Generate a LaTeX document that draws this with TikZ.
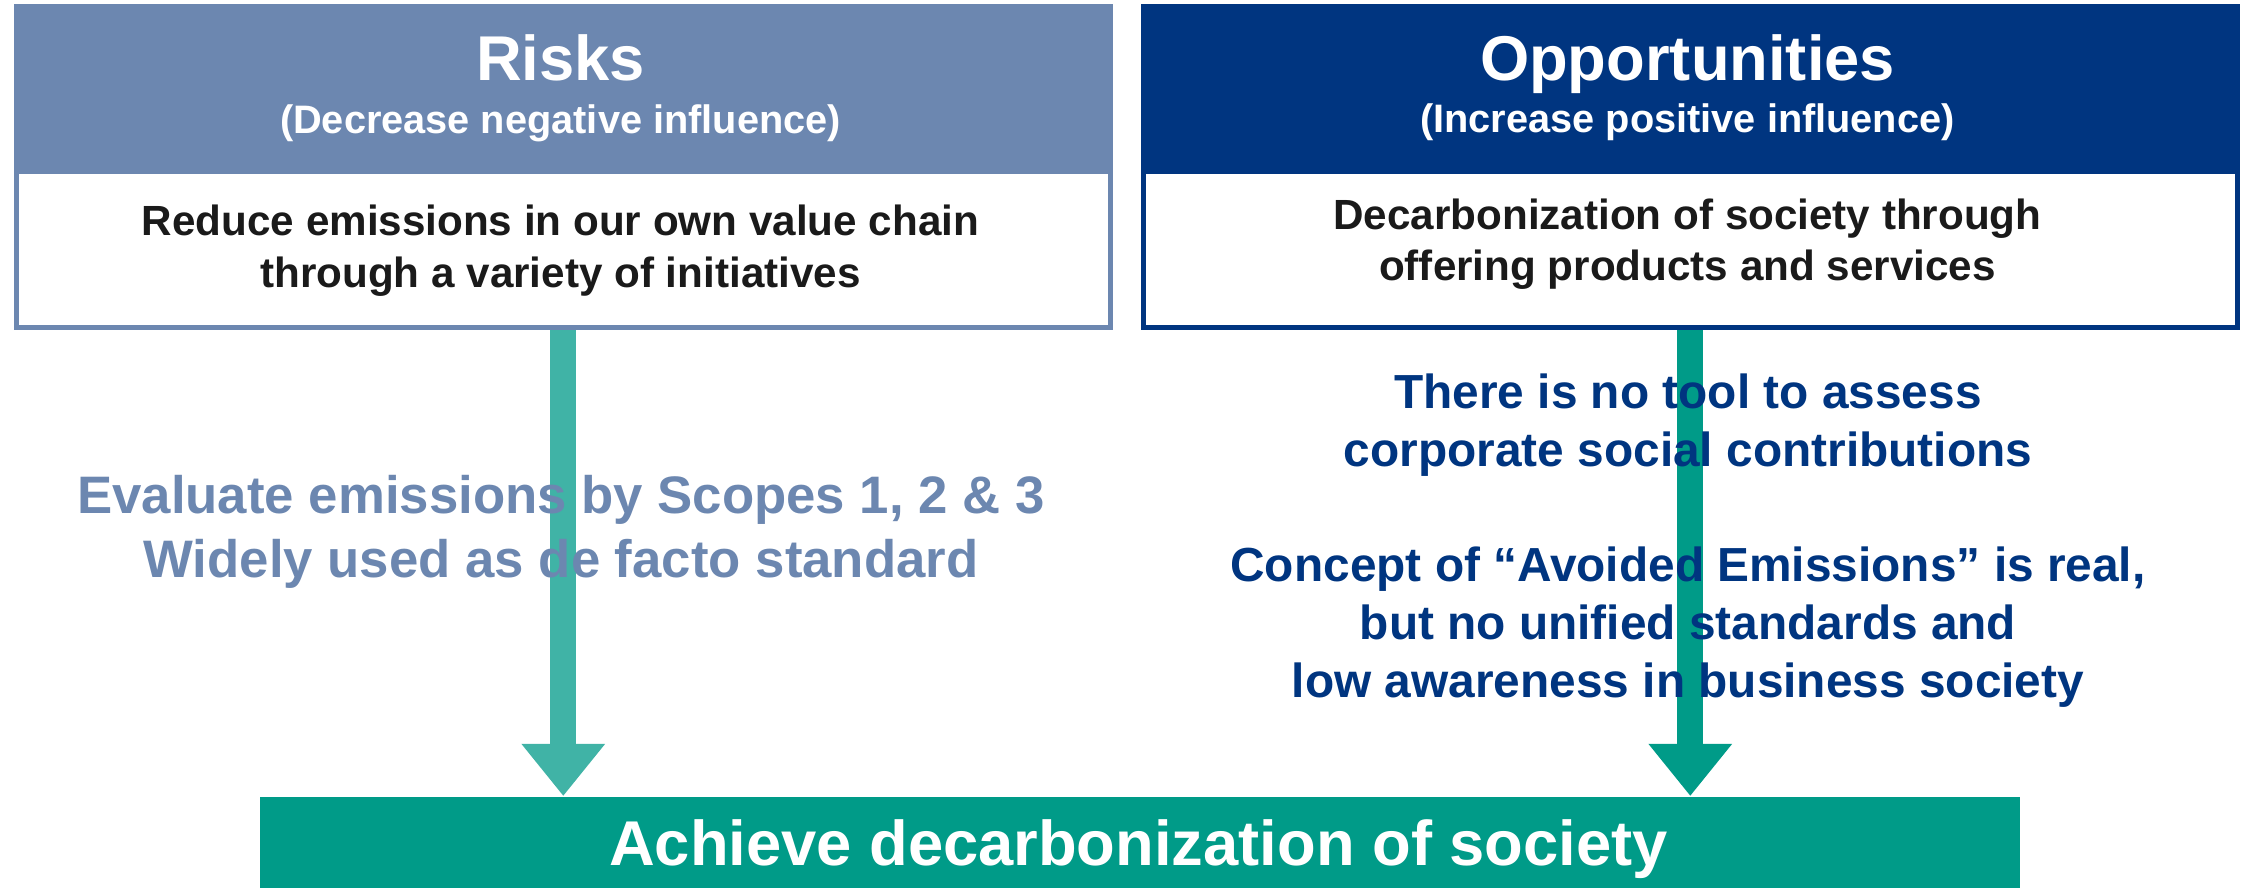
\documentclass[tikz,border=0pt]{standalone}
\usepackage{fontspec}
\setmainfont{Liberation Sans}
\usetikzlibrary{arrows.meta}

\definecolor{riskblue}{RGB}{108,135,176}
\definecolor{oppblue}{RGB}{0,53,128}
\definecolor{lightteal}{RGB}{64,179,166}
\definecolor{darkteal}{RGB}{0,155,136}
\definecolor{darktext}{RGB}{26,26,26}

\tikzset{
  headbox/.style={rectangle, draw=#1, fill=#1, line width=1.4pt, minimum width=10.93cm, minimum height=1.65cm, anchor=north west, inner sep=0pt},
  bodybox/.style={rectangle, draw=#1, fill=white, line width=1.4pt, minimum width=10.93cm, minimum height=1.56cm, anchor=north west, inner sep=0pt},
  titletext/.style={text=white, font=\fontsize{18}{21}\selectfont\bfseries, anchor=base, inner sep=0pt},
  subtext/.style={text=white, font=\fontsize{11.3}{13}\selectfont\bfseries, anchor=base, inner sep=0pt},
  bodytext/.style={text=darktext, font=\fontsize{12}{14.8}\selectfont\bfseries, anchor=base, inner sep=0pt},
  risknote/.style={text=riskblue, font=\fontsize{15}{18}\selectfont\bfseries, anchor=base, inner sep=0pt},
  oppnote/.style={text=oppblue, font=\fontsize{13.6}{16.5}\selectfont\bfseries, anchor=base, inner sep=0pt},
  flowarrow/.style={draw=#1, line width=0.26cm, -{Triangle[length=0.52cm, width=0.8cm]}},
  goalbox/.style={rectangle, fill=darkteal, minimum width=17.59cm, minimum height=1.1cm, anchor=north west, inner sep=0pt},
  goaltext/.style={text=white, font=\fontsize{18}{21}\selectfont\bfseries, anchor=base, inner sep=0pt}
}

\begin{document}
\begin{tikzpicture}[x=0.01cm, y=-0.01cm]
    \useasboundingbox (0,0) rectangle (2241,887);

    % two boxes at the top
    \node[headbox=riskblue] (riskhead) at (14,4) {};
    \node[bodybox=riskblue] (riskbody) at (14,169) {};
    \node[headbox=oppblue] (opphead) at (1141,4) {};
    \node[bodybox=oppblue] (oppbody) at (1141,169) {};

    % goal at the bottom
    \node[goalbox] (goal) at (259,796) {};

    % arrows
    \draw[flowarrow=lightteal] (riskbody.south) -- (riskbody.south |- goal.north);
    \draw[flowarrow=darkteal] (oppbody.south) -- (oppbody.south |- goal.north);

    % texts in the boxes
    \node[titletext] (risktitle) at (560.5,80) {Risks};
    \node[subtext] (risksub) at (560.5,133) {(Decrease negative influence)};
    \node[bodytext] (riskline1) at (560.5,235) {Reduce emissions in our own value chain};
    \node[bodytext] (riskline2) at (560.5,287) {through a variety of initiatives};

    \node[titletext] (opptitle) at (1687.5,80) {Opportunities};
    \node[subtext] (oppsub) at (1687.5,132) {(Increase positive influence)};
    \node[bodytext] (oppline1) at (1687.5,229) {Decarbonization of society through};
    \node[bodytext] (oppline2) at (1687.5,280) {offering products and services};

    % notes on the arrows
    \node[risknote] (scopeline1) at (561,513.5) {Evaluate emissions by Scopes 1, 2 \& 3};
    \node[risknote] (scopeline2) at (561,577) {Widely used as de facto standard};

    \node[oppnote] (toolline1) at (1688,408.6) {There is no tool to assess};
    \node[oppnote] (toolline2) at (1688,466.7) {corporate social contributions};
    \node[oppnote] (avoidline1) at (1688,581) {Concept of “Avoided Emissions” is real,};
    \node[oppnote] (avoidline2) at (1688,639) {but no unified standards and};
    \node[oppnote] (avoidline3) at (1688,697) {low awareness in business society};

    \node[goaltext] (goaltitle) at (1138.5,865.5) {Achieve decarbonization of society};
\end{tikzpicture}
\end{document}
